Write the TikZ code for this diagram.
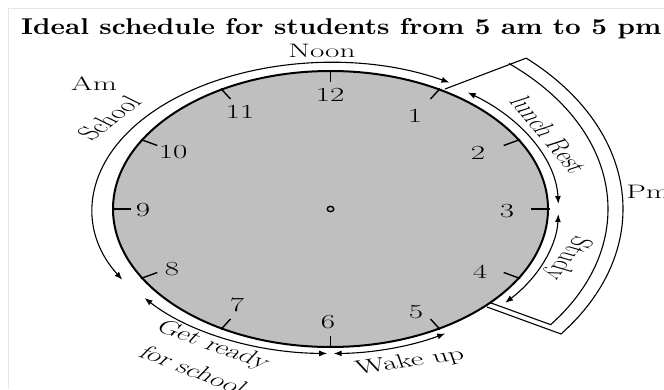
\documentclass[tikz,border=0pt]{standalone}
\usetikzlibrary{calc,arrows.meta}
\begin{document}
\begin{tikzpicture}[x=1pt,y=1pt,
  lbl/.style={font=\fontsize{19.5}{21}\selectfont, inner sep=0pt, xscale=1.6},
  num/.style={font=\fontsize{20}{22}\selectfont, inner sep=0pt, xscale=1.55},
  arr/.style={line width=1.1pt, {Latex[length=8pt,width=6pt]}-{Latex[length=8pt,width=6pt]}},
  bandline/.style={line width=1.1pt},
  tickline/.style={line width=1.4pt},
  faint/.style={black!10, line width=0.6pt}]
\useasboundingbox (0,0) rectangle (664,389);
\draw[faint] (8,0) -- (8,381) -- (664,381);
% title
\node[anchor=base west, inner sep=0pt] (title) at (21,354.5)
  {\resizebox{640pt}{16pt}{\bfseries Ideal schedule for students from 5 am to 5 pm}};
% clock face
\coordinate (C) at (330.5,180);
\draw[fill=black!25, line width=2pt] (C) ellipse[x radius=217.5pt, y radius=138pt];
\foreach \h in {1,...,12}{
  \pgfmathsetmacro\t{90-30*\h}
  \draw[tickline] ($(C)+(\t:219pt and 139pt)$) -- ($(C)+(\t:200pt and 127pt)$);
}
\draw[line width=1.4pt] (C) ellipse[x radius=3.3pt, y radius=2.6pt];
% numbers
\node[num] (n12) at (330,294) {12};
\node[num] (n1) at (415,273) {1};
\node[num] (n2) at (478,236) {2};
\node[num] (n3) at (507,178) {3};
\node[num] (n4) at (480,117) {4};
\node[num] (n5) at (416,77) {5};
\node[num] (n6) at (328,67) {6};
\node[num] (n7) at (237,84) {7};
\node[num] (n8) at (172,120) {8};
\node[num] (n9) at (143,179) {9};
\node[num] (n10) at (173,237) {10};
\node[num] (n11) at (240,277) {11};
% activity arcs
\coordinate (sSchool) at ($(C)+(60:238pt and 146pt)$);
\draw[arr] (sSchool) arc[start angle=60, end angle=209, x radius=238pt, y radius=146pt];
\coordinate (sReady) at ($(C)+(218:236pt and 144.5pt)$);
\draw[arr] (sReady) arc[start angle=218, end angle=269.2, x radius=236pt, y radius=144.5pt];
\coordinate (sWake) at ($(C)+(270.8:226pt and 144.5pt)$);
\draw[arr] (sWake) arc[start angle=270.8, end angle=300.5, x radius=226pt, y radius=144.5pt];
\coordinate (sLunch) at ($(C)+(53:228pt and 146pt)$);
\draw[arr] (sLunch) arc[start angle=53, end angle=2, x radius=228pt, y radius=146pt];
\coordinate (sStudy) at ($(C)+(-2:228pt and 146pt)$);
\draw[arr] (sStudy) arc[start angle=-2, end angle=-40, x radius=228pt, y radius=146pt];
% pm band
\coordinate (P1) at (445,300);
\coordinate (O1) at ($(C)+(48:292.5pt and 203pt)$);
\coordinate (P2) at (487,82);
\draw[bandline] (P1) -- (O1) arc[start angle=48, end angle=-38, x radius=292.5pt, y radius=203pt] -- (P2);
\coordinate (I1) at ($(C)+(50:277.5pt and 190pt)$);
\coordinate (P3) at (490,86.4);
\draw[bandline] (I1) arc[start angle=50, end angle=-37.5, x radius=277.5pt, y radius=190pt] -- (P3);
% labels
\node[lbl] (noon) at (322,338.5) {Noon};
\node[lbl] (am) at (94,305) {Am};
\node[lbl, rotate=51.3] (school) at (109,271) {School};
\node[lbl, anchor=west] (pm) at (626,197) {Pm};
\node[lbl, rotate=-62.3] (lunch) at (549,254) {lunch Rest};
\node[lbl, rotate=-115.1] (study) at (567,131) {Study};
\node[lbl, rotate=-29.8] (getready) at (213,43) {Get ready};
\node[lbl, rotate=-31.6] (forschool) at (194,19) {for school};
\node[lbl, rotate=12.7] (wake) at (410,27) {Wake up};
\end{tikzpicture}
\end{document}
